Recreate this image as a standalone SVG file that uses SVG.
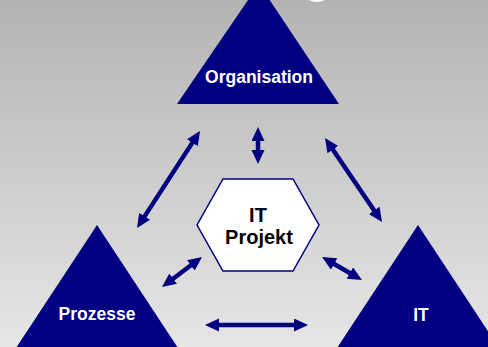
<svg xmlns="http://www.w3.org/2000/svg" width="488" height="347" viewBox="0 0 488 347">
<defs>
<linearGradient id="bg" x1="0" y1="0" x2="0" y2="1">
<stop offset="0" stop-color="#b3b3b3"/>
<stop offset="1" stop-color="#e6e6e6"/>
</linearGradient>
<marker id="ah" markerUnits="userSpaceOnUse" markerWidth="16" markerHeight="14" refX="1" refY="6.5" orient="auto-start-reverse">
<path d="M0,0 L14,6.5 L0,13 z" fill="#000080"/>
</marker>
<style>
.tri{fill:#000080}
.lbl{font-family:"Liberation Sans",Arial,sans-serif;font-weight:bold;fill:#fff;text-anchor:middle}
.hex{fill:#fff;stroke:#000080;stroke-width:1.5}
.hl{font-family:"Liberation Sans",Arial,sans-serif;font-weight:bold;fill:#000;text-anchor:middle;font-size:20px}
.arr{stroke:#000080;stroke-width:4.5;fill:none;marker-start:url(#ah);marker-end:url(#ah)}
</style>
</defs>
<rect width="488" height="347" fill="url(#bg)"/>
<ellipse cx="317" cy="-1" rx="8" ry="3" fill="#fff"/>
<g id="organisation">
<polygon class="tri" points="259,-16 339,104 177,104"/>
<text class="lbl" x="259" y="83" font-size="17.5">Organisation</text>
</g>
<g id="prozesse">
<polygon class="tri" points="97,225 178,348 16,348"/>
<text class="lbl" x="97" y="320" font-size="17.5">Prozesse</text>
</g>
<g id="it">
<polygon class="tri" points="418,225 499,348 337,348"/>
<text class="lbl" x="421" y="321" font-size="17.5">IT</text>
</g>
<g id="itprojekt">
<polygon class="hex" points="223,179 293,179 319,225 293,271 223,271 197,225"/>
<text class="hl" x="258" y="222">IT</text>
<text class="hl" x="259" y="244">Projekt</text>
</g>
<g id="connectors">
<path class="arr" d="M192.9,141.9 L144.1,217.1"/>
<path class="arr" d="M258,140 L258,151"/>
<path class="arr" d="M332.3,148.8 L374.7,211.2"/>
<path class="arr" d="M191.6,264.8 L172.4,279.2"/>
<path class="arr" d="M333.3,263.5 L350.7,273.5"/>
<path class="arr" d="M218,325 L295,325"/>
</g>
</svg>
